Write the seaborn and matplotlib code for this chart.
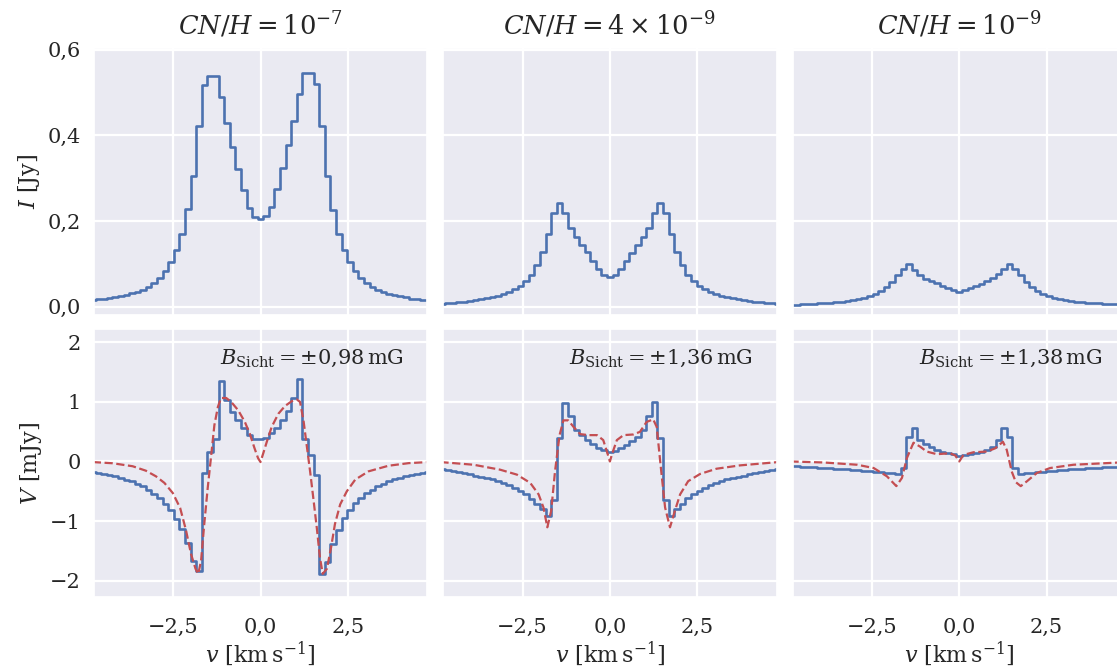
"""
Stokes I and V line profiles for three CN abundances (2x3 panel grid).
"""
import numpy as np
import matplotlib.pyplot as plt
from matplotlib.ticker import FuncFormatter
import seaborn as sns

# ── data ─────────────────────────────────────────────────────────────────────
V_CHAN = np.round(np.arange(-30, 31) * 0.16, 2)   # channel centres [km/s]

TITLES = [r"$CN/H = 10^{-7}$", r"$CN/H = 4\times10^{-9}$", r"$CN/H = 10^{-9}$"]
B_LABELS = [r"$B_\mathrm{Sicht} = \pm0{,}98\,\mathrm{mG}$",
            r"$B_\mathrm{Sicht} = \pm1{,}36\,\mathrm{mG}$",
            r"$B_\mathrm{Sicht} = \pm1{,}38\,\mathrm{mG}$"]

I_1E7 = [0.015, 0.017, 0.018, 0.021, 0.023, 0.025, 0.028, 0.031, 0.035, 0.040,
         0.046, 0.056, 0.068, 0.083, 0.104,
         0.132, 0.171, 0.228, 0.306, 0.421, 0.517, 0.540, 0.540, 0.491, 0.428,
         0.373, 0.321, 0.272, 0.230, 0.210,
         0.206,
         0.211, 0.233, 0.275, 0.325, 0.378, 0.433, 0.498, 0.547, 0.547, 0.521,
         0.423, 0.306, 0.227, 0.171, 0.132,
         0.104, 0.083, 0.067, 0.056, 0.046, 0.039, 0.034, 0.030, 0.027, 0.024,
         0.022, 0.019, 0.018, 0.016, 0.015]
I_4E9 = [0.007, 0.008, 0.009, 0.010, 0.012, 0.013, 0.015, 0.017, 0.020, 0.023,
         0.026, 0.030, 0.035, 0.041, 0.049,
         0.060, 0.075, 0.097, 0.127, 0.170, 0.219, 0.242, 0.219, 0.184, 0.162,
         0.144, 0.127, 0.107, 0.088, 0.074,
         0.070,
         0.074, 0.089, 0.107, 0.125, 0.143, 0.162, 0.184, 0.219, 0.242, 0.219,
         0.170, 0.127, 0.097, 0.075, 0.060,
         0.049, 0.041, 0.035, 0.030, 0.026, 0.023, 0.020, 0.017, 0.015, 0.013,
         0.012, 0.010, 0.009, 0.008, 0.007]
I_1E9 = [0.005, 0.005, 0.0055, 0.006, 0.007, 0.008, 0.0086, 0.009, 0.010, 0.012,
         0.013, 0.016, 0.018, 0.021, 0.025,
         0.030, 0.036, 0.045, 0.057, 0.073, 0.089, 0.100, 0.086, 0.075, 0.065,
         0.059, 0.055, 0.049, 0.044, 0.038,
         0.034,
         0.038, 0.043, 0.049, 0.054, 0.060, 0.066, 0.076, 0.087, 0.100, 0.089,
         0.073, 0.057, 0.045, 0.036, 0.030,
         0.025, 0.021, 0.018, 0.016, 0.013, 0.012, 0.010, 0.009, 0.0086, 0.008,
         0.007, 0.006, 0.0055, 0.005, 0.005]

V_1E7 = [-0.172, -0.189, -0.205, -0.227, -0.250, -0.277, -0.305, -0.333, -0.372, -0.416,
         -0.471, -0.544, -0.621, -0.710, -0.821,
         -0.971, -1.137, -1.375, -1.664, -1.841, -0.194, 0.166, 0.377, 1.348, 1.037,
         0.832, 0.693, 0.555, 0.444, 0.377,
         0.377,
         0.399, 0.471, 0.566, 0.693, 0.843, 1.065, 1.387, 0.372, 0.111, -0.222,
         -1.886, -1.692, -1.387, -1.154, -0.943,
         -0.815, -0.693, -0.610, -0.527, -0.471, -0.416, -0.372, -0.333, -0.300, -0.272,
         -0.244, -0.222, -0.205, -0.189, -0.172]
V_4E9 = [-0.133, -0.149, -0.166, -0.182, -0.199, -0.215, -0.238, -0.254, -0.276, -0.298,
         -0.326, -0.359, -0.403, -0.442, -0.497,
         -0.552, -0.635, -0.718, -0.801, -0.912, -0.646, 0.398, 0.983, 0.757, 0.536,
         0.442, 0.359, 0.287, 0.232, 0.188,
         0.166,
         0.177, 0.221, 0.276, 0.343, 0.414, 0.525, 0.757, 0.994, 0.398, -0.646,
         -0.912, -0.801, -0.707, -0.619, -0.552,
         -0.497, -0.442, -0.403, -0.359, -0.326, -0.298, -0.276, -0.254, -0.238, -0.215,
         -0.199, -0.182, -0.166, -0.149, -0.133]
V_1E9 = [-0.072, -0.083, -0.088, -0.094, -0.099, -0.105, -0.110, -0.116, -0.122, -0.127,
         -0.133, -0.144, -0.149, -0.160, -0.166,
         -0.177, -0.182, -0.193, -0.199, -0.210, -0.110, 0.414, 0.564, 0.359, 0.287,
         0.238, 0.193, 0.166, 0.149, 0.122,
         0.099,
         0.110, 0.127, 0.149, 0.166, 0.193, 0.238, 0.359, 0.564, 0.414, -0.110,
         -0.210, -0.199, -0.193, -0.182, -0.177,
         -0.166, -0.160, -0.149, -0.144, -0.133, -0.127, -0.122, -0.116, -0.110, -0.105,
         -0.099, -0.094, -0.088, -0.083, -0.072]

# model curves (red dashed)
VM_1E7 = [-4.8, -4.23, -3.66, -3.28, -2.99, -2.75, -2.51, -2.30, -2.13, -1.99,
          -1.86, -1.78, -1.70, -1.61, -1.51, -1.41, -1.32, -1.22, -1.13, -0.98,
          -0.84, -0.64, -0.45, -0.31, -0.17, -0.07, 0.0, 0.08, 0.18, 0.32,
          0.51, 0.70, 0.89, 1.04, 1.13, 1.23, 1.32, 1.42, 1.51, 1.61,
          1.70, 1.78, 1.90, 2.02, 2.13, 2.28, 2.47, 2.71, 3.09, 3.66, 4.24, 4.8]
M_1E7 = [-0.01, -0.03, -0.08, -0.155, -0.25, -0.36, -0.53, -0.78, -1.16, -1.55,
         -1.80, -1.886, -1.66, -1.05, -0.44, 0.11, 0.61, 0.915, 1.065, 1.065,
         1.0, 0.86, 0.666, 0.47, 0.22, 0.055, -0.01, 0.14, 0.33, 0.58,
         0.80, 0.93, 1.01, 1.04, 1.0, 0.69, 0.28, -0.17, -0.61, -1.11,
         -1.61, -1.886, -1.80, -1.44, -1.05, -0.72, -0.50, -0.305, -0.166, -0.072, -0.028, -0.01]
VM_4E9 = [-4.85, -3.90, -3.14, -2.66, -2.28, -2.04, -1.90, -1.79, -1.68, -1.57,
          -1.44, -1.33, -1.19, -1.04, -0.85, -0.61, -0.37, -0.19, -0.07, 0.0,
          0.07, 0.20, 0.39, 0.67, 0.86, 1.05, 1.24, 1.34, 1.45, 1.58,
          1.72, 1.86, 2.01, 2.24, 2.58, 3.05, 3.72, 4.8]
M_4E9 = [-0.01, -0.055, -0.138, -0.221, -0.359, -0.552, -0.773, -1.105, -0.829, -0.166,
         0.442, 0.69, 0.69, 0.58, 0.459, 0.442, 0.442, 0.359, 0.138, 0.0,
         0.138, 0.359, 0.442, 0.453, 0.497, 0.663, 0.707, 0.58, -0.055, -0.773,
         -1.105, -0.829, -0.552, -0.331, -0.21, -0.122, -0.066, -0.011]
VM_1E9 = [-4.83, -3.88, -2.92, -2.45, -2.07, -1.80, -1.64, -1.50, -1.31, -1.12,
          -0.93, -0.64, -0.26, -0.11, 0.0, 0.12, 0.41, 0.79, 1.03, 1.25,
          1.36, 1.50, 1.62, 1.76, 1.94, 2.22, 2.60, 3.27, 4.8]
M_1E9 = [0.0, -0.017, -0.055, -0.11, -0.249, -0.414, -0.276, 0.055, 0.315, 0.249,
         0.166, 0.122, 0.138, 0.099, 0.0, 0.11, 0.155, 0.166, 0.221, 0.331,
         0.193, -0.166, -0.348, -0.414, -0.331, -0.193, -0.11, -0.055, -0.011]

I_SETS = [I_1E7, I_4E9, I_1E9]
V_SETS = [V_1E7, V_4E9, V_1E9]
MODEL_V = [VM_1E7, VM_4E9, VM_1E9]
MODEL = [M_1E7, M_4E9, M_1E9]

BLUE, RED = "#4C72B0", "#C44E52"

# ── style ────────────────────────────────────────────────────────────────────
sns.set_theme(style="darkgrid", rc={"grid.linewidth": 1.6})
plt.rcParams["font.family"] = ["DejaVu Serif"]
plt.rcParams["mathtext.fontset"] = "dejavuserif"


def _comma(fmt):
    return FuncFormatter(lambda x, pos: (fmt % x).replace(".", ",").replace("-", "\u2212"))


fig = plt.figure(figsize=(11.17, 6.72), dpi=100)
axes = fig.subplots(2, 3, sharex=True, sharey="row")
fig.subplots_adjust(left=0.084, right=1.008, top=0.929, bottom=0.112,
                    wspace=0.048, hspace=0.052)

for j in range(3):
    ax_i, ax_v = axes[0, j], axes[1, j]
    sns.lineplot(x=V_CHAN, y=I_SETS[j], ax=ax_i, color=BLUE, lw=1.9,
                 drawstyle="steps-mid")
    sns.lineplot(x=V_CHAN, y=V_SETS[j], ax=ax_v, color=BLUE, lw=1.9,
                 drawstyle="steps-mid")
    sns.lineplot(x=MODEL_V[j], y=MODEL[j], ax=ax_v, color=RED, lw=1.6,
                 linestyle="--")
    ax_i.set_title(TITLES[j], fontsize=18.5, pad=9)
    ax_v.text(0.93, 0.89, B_LABELS[j], transform=ax_v.transAxes,
              ha="right", va="center", fontsize=15)
    ax_v.set_xlabel(r"$v\ [\mathrm{km\,s^{-1}}]$", fontsize=16, labelpad=2)

axes[0, 0].set_xlim(-4.77, 4.77)
axes[0, 0].set_xticks([-2.5, 0.0, 2.5])
axes[1, 0].xaxis.set_major_formatter(_comma("%.1f"))
axes[0, 0].set_ylim(-0.02, 0.605)
axes[0, 0].set_yticks([0.0, 0.2, 0.4, 0.6])
axes[0, 0].yaxis.set_major_formatter(_comma("%.1f"))
axes[1, 0].set_ylim(-2.27, 2.22)
axes[1, 0].set_yticks([-2, -1, 0, 1, 2])
axes[1, 0].yaxis.set_major_formatter(_comma("%.0f"))
axes[0, 0].set_ylabel(r"$I\ [\mathrm{Jy}]$", fontsize=16)
axes[1, 0].set_ylabel(r"$V\ [\mathrm{mJy}]$", fontsize=16)

for ax in axes.flat:
    ax.tick_params(labelsize=15)
    ax.tick_params(axis="x", pad=9)

fig.savefig("out.png", dpi=100)
